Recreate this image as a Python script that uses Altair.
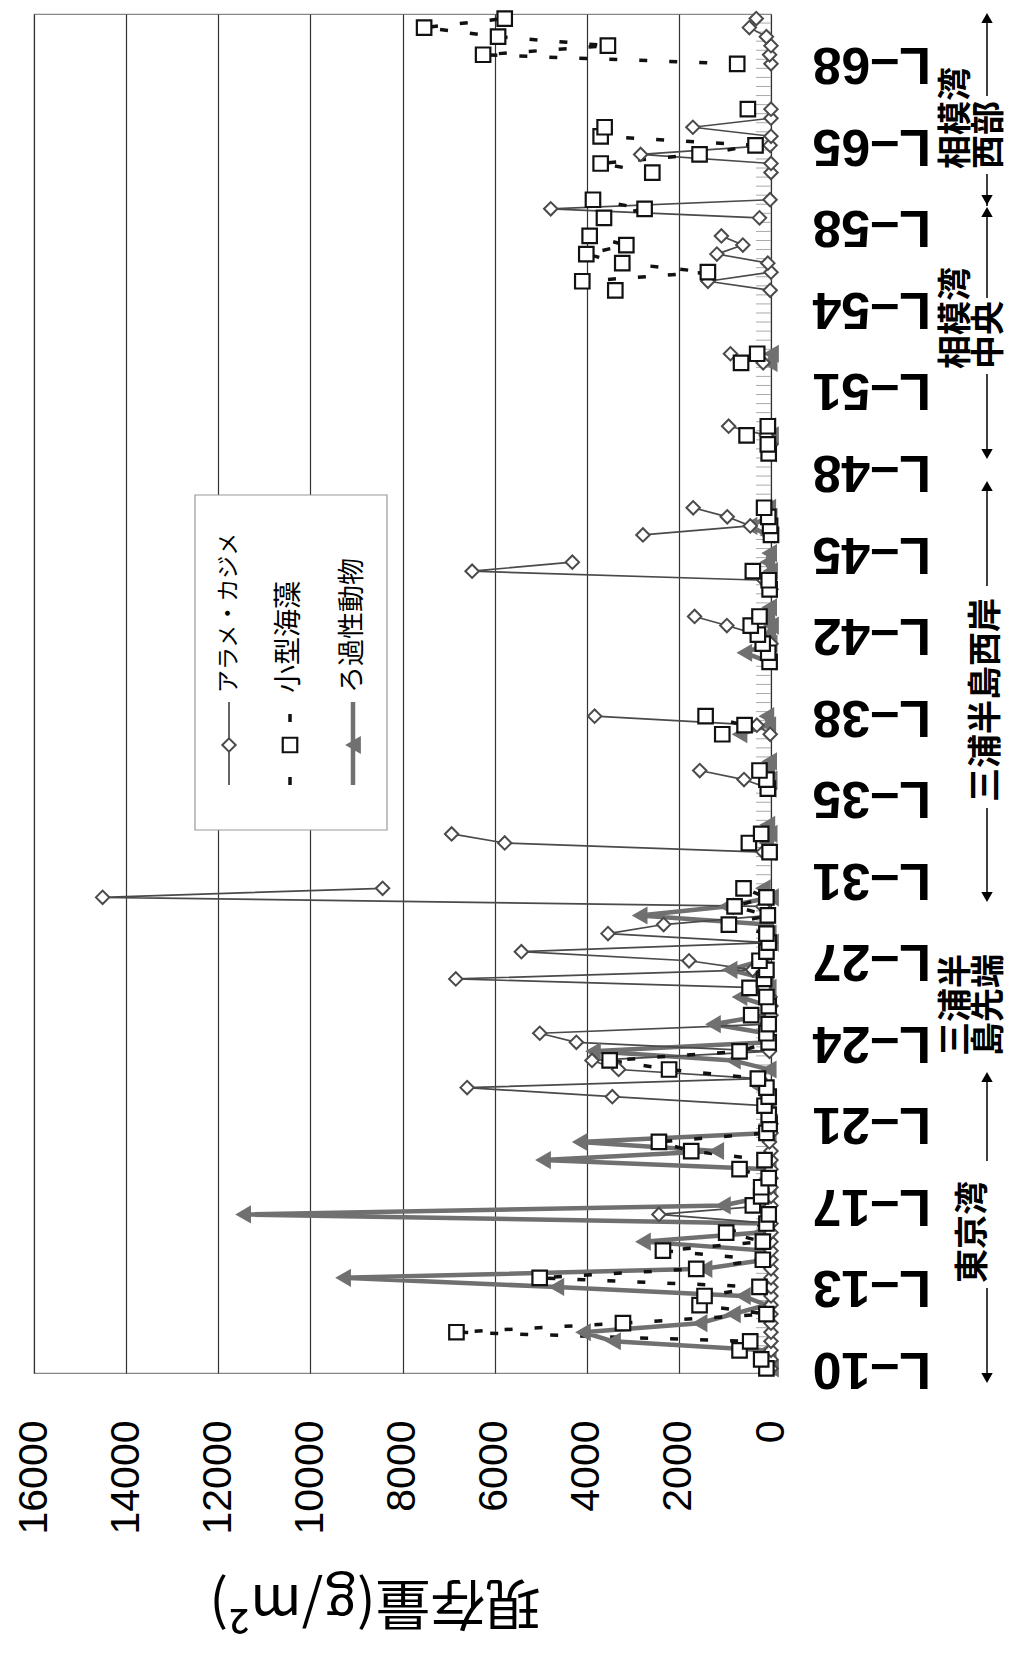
import altair as alt
import pandas as pd

# ---------------- data ----------------
N_CAT = 150                 # number of sampling points on the station axis
LABEL_STEP = 9              # a station label every 9 points
STATION_LABELS = ["L–10", "L–13", "L–17", "L–21", "L–24", "L–27", "L–31", "L–35", "L–38",
                  "L–42", "L–45", "L–48", "L–51", "L–54", "L–58", "L–65", "L–68"]
VALUE_TICKS = [0, 2000, 4000, 6000, 8000, 10000, 12000, 14000, 16000]
SERIES = ["アラメ・カジメ", "小型海藻", "ろ過性動物"]

# (first point index, values of consecutive points)
ARAME_RUNS = [
    (0, [0, 0, 0, 0, 0, 0, 0, 0, 0, 0,
         0, 0, 0, 0, 0, 0, 0, 2433, 0, 0,
         0, 0, 0, 0, 0, 33, 0, 0, 20, 100,
         3445, 6597, 250, 3308, 3886, 33, 4225, 5020, 100, 0,
         0, 20, 150, 6843, 400, 1780, 5419, 20, 3539, 2331,
         69, 177, 14511, 8432]),
    (57, [170, 5781, 6934]),
    (64, [30, 586, 1547]),
    (70, [18, 307, 3829]),
    (80, [0, 300, 958, 1659]),
    (86, [0, 150, 6489, 4313]),
    (92, [2780, 450, 950, 1690]),
    (102, [0, 100, 920]),
    (111, [170, 880]),
    (119, [18, 1370, 0, 69, 1175, 611, 1077]),
    (127, [250, 4782, 20]),
    (132, [0, 0, 2830, 20, 0, 1696, 0, 0]),
    (144, [0, 30, 0, 100, 470, 320]),
]
SHOKEI_RUNS = [
    (0, [100, 213, 683, 452, 6829, 3214, 100, 1551, 1443, 250,
         5022, 1623, 177, 2346, 177, 973, 100, 50, 394, 213,
         213, 50, 683, 141, 1732, 2433, 100, 30, 50, 141,
         50, 100, 285, 2213, 3503, 683, 50, 100, 50, 430,
         50, 100, 466, 150, 100, 250, 100, 50, 100, 915,
         69, 791, 100, 596]),
    (57, [30, 480, 213]),
    (64, [69, 100, 250]),
    (70, [1058, 574, 1420]),
    (78, [30, 60, 180, 285, 440, 250]),
    (86, [30, 50, 394]),
    (92, [0, 20, 60, 150]),
    (101, [50, 69, 530, 69]),
    (111, [650, 300]),
    (119, [3380, 4097, 1370, 3229, 4010, 3141, 3937]),
    (127, [3626, 2744, 3865]),
    (132, [2577, 3698, 1551, 336, 3698, 3612]),
    (139, [502]),
    (144, [734, 6250, 3541, 5925, 7531, 5781]),
]
ROKA_RUNS = [
    (0, [0, 50, 100, 3430, 4082, 1551, 828, 100, 611, 4660,
         9290, 1443, 100, 100, 2780, 250, 177, 11460, 1045, 100,
         50, 100, 50, 4950, 1190, 4154, 50, 100, 50, 50,
         100, 250, 300, 50, 828, 3865, 50, 100, 1260, 100,
         50, 683, 50, 100, 900, 200, 100, 0, 50, 100,
         2852, 972, 0, 177]),
    (57, [50, 100, 30, 80]),
    (64, [50, 30, 80, 40]),
    (70, [683, 60, 100]),
    (78, [50, 580, 30, 60, 0, 80, 40]),
    (86, [30, 60, 20, 80, 40]),
    (92, [80, 466, 30, 60]),
    (101, [40, 80, 0, 60]),
    (111, [30, 0]),
]

rows = []
for name, runs in zip(SERIES, [ARAME_RUNS, SHOKEI_RUNS, ROKA_RUNS]):
    for k, (start, vals) in enumerate(runs):
        for j, v in enumerate(vals):
            rows.append({"series": name, "seg": f"{name}-{k}", "idx": start + j, "val": v})
df = pd.DataFrame(rows)
ticks_df = pd.DataFrame({"idx": [i + 0.5 for i in range(N_CAT - 1)]})
DUMMY = pd.DataFrame({"a": [0]})

# ---------------- layout / style ----------------
W, H = 737, 1359
NUM_FONT = "Liberation Sans, Arial, sans-serif"
JP_FONT = "Noto Sans CJK JP"
C_ARAME = "#4a4a4a"
C_SHOKEI = "#111111"
C_ROKA = "#707070"

label_expr = "[" + ",".join(f"'{s}'" for s in STATION_LABELS) + "][round(datum.value / %d)]" % LABEL_STEP
LABEL_IDX = [i * LABEL_STEP for i in range(len(STATION_LABELS))]


def enc_x():
    return alt.X("val:Q",
                 scale=alt.Scale(domain=[0, 16000], reverse=True, nice=False, zero=False),
                 axis=alt.Axis(values=VALUE_TICKS, format="d", labelAngle=270, labelAlign="right",
                               labelBaseline="middle", labelFontSize=41, labelFont=NUM_FONT,
                               labelColor="black", labelPadding=47, ticks=False, tickSize=0,
                               domain=False, grid=True, gridColor="#333333", gridWidth=1.2,
                               labelFlush=False, labelOverlap=False, title=None))


def enc_y():
    return alt.Y("idx:Q",
                 scale=alt.Scale(domain=[-0.5, N_CAT - 0.5], nice=False, zero=False),
                 axis=alt.Axis(orient="right", values=LABEL_IDX, labelExpr=label_expr,
                               labelAngle=180, labelAlign="right", labelBaseline="middle",
                               labelFontSize=52, labelFont=NUM_FONT, labelFontWeight="bold",
                               labelColor="black", labelPadding=41, ticks=False, tickSize=0,
                               domain=False, grid=False, labelFlush=False, labelOverlap=False,
                               title=None))


base = alt.Chart(df)


def series_line(name, **kw):
    return base.transform_filter(alt.datum.series == name).mark_line(**kw).encode(
        x=enc_x(), y=enc_y(), detail="seg:N", order="idx:Q")


def series_points(name, **kw):
    return base.transform_filter(alt.datum.series == name).mark_point(opacity=1, **kw).encode(
        x=enc_x(), y=enc_y())


tick_layer = alt.Chart(ticks_df).mark_rule(color="#aaaaaa", strokeWidth=1).encode(
    y=enc_y(), x=alt.value(W - 15), x2=alt.value(W))

roka_line = series_line(SERIES[2], color=C_ROKA, strokeWidth=4.5)
arame_line = series_line(SERIES[0], color=C_ARAME, strokeWidth=1.7)
shokei_line = series_line(SERIES[1], color=C_SHOKEI, strokeWidth=3.5, strokeDash=[8, 22])
roka_pts = series_points(SERIES[2], shape="triangle-left", size=330, filled=True, color=C_ROKA)
arame_pts = series_points(SERIES[0], shape="diamond", size=180, filled=True, fill="white",
                          stroke=C_ARAME, strokeWidth=2)
shokei_pts = series_points(SERIES[1], shape="square", size=210, filled=True, fill="white",
                           stroke=C_SHOKEI, strokeWidth=2.2)


def txt(text, px, py, size, angle=0, align="center", baseline="middle", font=JP_FONT,
        weight="normal"):
    return alt.Chart(DUMMY).mark_text(text=text, angle=angle, align=align, baseline=baseline,
                                      fontSize=size, font=font, fontWeight=weight,
                                      color="black").encode(x=alt.value(px), y=alt.value(py))


def rule(px1, py1, px2, py2, color="black", width=1.5, dash=None):
    kw = dict(color=color, strokeWidth=width)
    if dash:
        kw["strokeDash"] = dash
    return alt.Chart(DUMMY).mark_rule(**kw).encode(
        x=alt.value(px1), y=alt.value(py1), x2=alt.value(px2), y2=alt.value(py2))


def sym(shape, px, py, size, fill, stroke, sw=0):
    return alt.Chart(DUMMY).mark_point(shape=shape, size=size, filled=True, fill=fill,
                                       stroke=stroke, strokeWidth=sw, opacity=1).encode(
        x=alt.value(px), y=alt.value(py))


# legend (drawn inside the plot, rotated like the figure)
legend = [
    alt.Chart(DUMMY).mark_rect(fill="white", stroke="#999999", strokeWidth=1.2).encode(
        x=alt.value(161), x2=alt.value(353), y=alt.value(481), y2=alt.value(816)),
    rule(195, 688, 195, 771, C_ARAME, 1.7),
    sym("diamond", 195, 731, 180, "white", C_ARAME, 2),
    rule(256, 700, 256, 708, C_SHOKEI, 3.5),
    rule(256, 763, 256, 771, C_SHOKEI, 3.5),
    sym("square", 256, 731, 210, "white", C_SHOKEI, 2.2),
    rule(319, 688, 319, 771, C_ROKA, 4.5),
    sym("triangle-left", 319, 731, 330, C_ROKA, C_ROKA, 0),
    txt(SERIES[0], 195, 679, 23, angle=270, align="left"),
    txt(SERIES[1], 256, 679, 28, angle=270, align="left"),
    txt(SERIES[2], 319, 679, 27, angle=270, align="left"),
]

# region annotations to the right of the station labels
AX = 953
region = [
    sym("triangle-up", AX, 4, 130, "black", "black"),
    rule(AX, 8, AX, 82),
    txt("相模湾", 923, 155, 34, angle=270, align="left", weight="bold"),
    txt("西部", 956, 155, 34, angle=270, align="left", weight="bold"),
    rule(AX, 160, AX, 192),
    sym("triangle-down", AX, 186, 130, "black", "black"),
    sym("triangle-up", AX, 198, 130, "black", "black"),
    rule(AX, 198, AX, 284),
    txt("相模湾", 923, 355, 34, angle=270, align="left", weight="bold"),
    txt("中央", 956, 355, 34, angle=270, align="left", weight="bold"),
    rule(AX, 360, AX, 440),
    sym("triangle-down", AX, 440, 130, "black", "black"),
    sym("triangle-up", AX, 472, 130, "black", "black"),
    rule(AX, 472, AX, 572),
    txt("三浦半島西岸", AX, 788, 34, angle=270, align="left", weight="bold"),
    rule(AX, 794, AX, 883),
    sym("triangle-down", AX, 883, 130, "black", "black"),
    txt("三浦半", 923, 1042, 34, angle=270, align="left", weight="bold"),
    txt("島先端", 956, 1042, 34, angle=270, align="left", weight="bold"),
    sym("triangle-up", AX, 1063, 130, "black", "black"),
    rule(AX, 1063, AX, 1147),
    txt("東京湾", 940, 1269, 34, angle=270, align="left", weight="bold"),
    rule(AX, 1274, AX, 1364),
    sym("triangle-down", AX, 1364, 130, "black", "black"),
]

title = [txt("現存量(g/m²)", 341, 1588, 55, angle=180)]

chart = alt.layer(
    tick_layer, roka_line, arame_line, shokei_line, roka_pts, arame_pts, shokei_pts,
    *legend, *region, *title
).properties(
    width=W, height=H,
    autosize=alt.AutoSizeParams(type="none"),
    padding={"left": 26, "top": 6, "right": 243, "bottom": 274},
).configure(background="white").configure_view(stroke="#888888", strokeWidth=1.2)

chart.save("out.html", embed_options={"renderer": "svg", "actions": False})
